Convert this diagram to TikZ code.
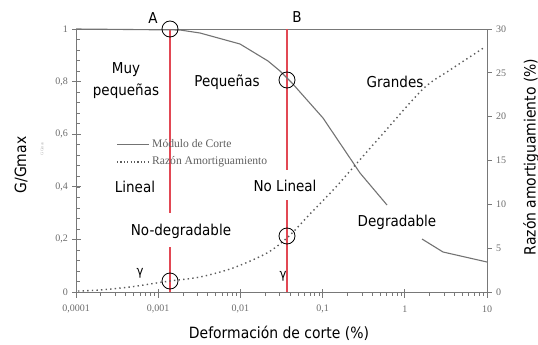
\documentclass[tikz,border=0pt]{standalone}
\usepackage{fontspec}
\setmainfont{DejaVu Sans Condensed}
\newfontfamily\tnr{Liberation Serif}
\definecolor{redl}{RGB}{226,72,84}
\definecolor{axg}{RGB}{120,120,120}
\definecolor{curveg}{RGB}{115,115,115}
\tikzset{
  lbl/.style={inner sep=0pt, font=\fontsize{15}{22}\selectfont, align=center},
  ttl/.style={inner sep=0pt, font=\fontsize{15.5}{18}\selectfont},
  ticklbl/.style={inner sep=0pt, text=axg!90!black, font=\tnr\fontsize{10}{12}\selectfont},
  leglbl/.style={inner sep=0pt, anchor=west, text=axg!80!black, font=\tnr\fontsize{11.6}{13}\selectfont},
  axisline/.style={draw=axg, line width=0.9pt},
  redline/.style={draw=redl, line width=1.2pt},
  mark circle/.style={circle, draw=black, line width=0.8pt, minimum size=16pt, inner sep=0pt},
  gcurve/.style={draw=curveg, line width=1.1pt, line join=round},
  dcurve/.style={draw=curveg!80!black, line width=1.4pt, dash pattern=on 1.4pt off 3.2pt}
}
\begin{document}
\begin{tikzpicture}[x=1pt,y=-1pt]
\useasboundingbox (0,0) rectangle (538,345);
% frame
\draw[axisline] (76,292) -- (76,29) -- (487,29) -- (487,292) -- cycle;
% left ticks
\foreach \i in {0,...,25} {
  \pgfmathsetmacro{\yy}{292-263*\i*0.04}
  \draw[axg, line width=0.6pt] (76,\yy) -- (79.5,\yy);
}
\foreach \v/\t in {0/0,1/{0,2},2/{0,4},3/{0,6},4/{0,8},5/1} {
  \pgfmathsetmacro{\yy}{292-263*\v*0.2}
  \draw[axg, line width=0.8pt] (72,\yy) -- (81,\yy);
  \node[ticklbl, anchor=east] at (68,\yy) {\t};
}
% right ticks
\foreach \v in {0,5,...,30} {
  \pgfmathsetmacro{\yy}{292-263*\v/30}
  \draw[axg, line width=0.8pt] (487,\yy) -- (492,\yy);
  \node[ticklbl, anchor=west] at (496,\yy) {\v};
}
% bottom ticks
\foreach \d in {0,...,4} {
  \foreach \k in {2,...,9} {
    \pgfmathsetmacro{\xx}{76+82.2*(\d+log10(\k))}
    \draw[axg, line width=0.6pt] (\xx,292) -- (\xx,296);
  }
}
\foreach \d/\t in {0/{0,0001},1/{0,001},2/{0,01},3/{0,1},4/1,5/10} {
  \pgfmathsetmacro{\xx}{76+82.2*\d}
  \draw[axg, line width=0.8pt] (\xx,289) -- (\xx,298);
  \node[ticklbl] at (\xx,309) {\t};
}
% red lines
\coordinate (a1) at (170,29); \coordinate (a2) at (170,213);
\coordinate (a3) at (170,247); \coordinate (a4) at (170,292);
\coordinate (b1) at (287,29); \coordinate (b2) at (287,170);
\coordinate (b3) at (287,200); \coordinate (b4) at (287,292);
\draw[redline] (a1) -- (a2) (a3) -- (a4);
\draw[redline] (b1) -- (b2) (b3) -- (b4);
% modulus curve
\draw[gcurve] (76,29) -- (180,30) -- (200,33) -- (240,44) -- (268,61) -- (280,71) -- (292,83) -- (323,118) -- (360,173) -- (387,205);
\draw[gcurve] (422,239) -- (443,252) -- (487,262);
% damping curve
\draw[dcurve] plot[smooth, tension=0.5] coordinates {(78,291) (100,290) (130,287) (150,284) (170,281) (200,277) (233,268) (267,253) (288,237) (310,214) (335,188) (350,171) (380,137) (423,89) (450,70) (485,47)};
% circles
\node[mark circle] (cA) at (170,29) {};
\node[mark circle] (cB) at (287,80) {};
\node[mark circle] (cA2) at (170,281) {};
\node[mark circle] (cB2) at (287,236) {};
% legend
\coordinate (l1) at (117,144); \coordinate (l2) at (149,144);
\coordinate (l3) at (117,162); \coordinate (l4) at (150,162);
\draw[gcurve, line width=1pt] (l1) -- (l2);
\draw[dcurve, line width=1.2pt, dash pattern=on 1.2pt off 2.2pt] (l3) -- (l4);
\node[leglbl] (lg1) at (152,144) {Módulo de Corte};
\node[leglbl] (lg2) at (152,162) {Razón Amortiguamiento};
% labels
\node[lbl] (A) at (153,18) {A};
\node[lbl] (B) at (297,17) {B};
\node[lbl] (muy) at (126,81) {Muy\\pequeñas};
\node[lbl] (peq) at (227,82) {Pequeñas};
\node[lbl] (gra) at (395,82) {Grandes};
\node[lbl] (lin) at (135,187) {Lineal};
\node[lbl] (nolin) at (285,186) {No Lineal};
\node[lbl] (nodeg) at (181,231) {No-degradable};
\node[lbl] (deg) at (397,222) {Degradable};
\node[lbl, font=\fontsize{13}{15}\selectfont] (g1) at (140,273) {γ};
\node[lbl, font=\fontsize{13}{15}\selectfont] (g2) at (283,276) {γ};
\node[ttl, rotate=90] (ylab) at (21,165) {G/Gmax};
\node[inner sep=0pt, rotate=90, text=axg!60, font=\tnr\fontsize{4}{5}\selectfont] (ytiny) at (42,149) {G/Gmax};
\node[ttl, rotate=90] (y2lab) at (531,157) {Razón amortiguamiento (\%)};
\node[ttl] (xlab) at (279,333) {Deformación de corte (\%)};
\end{tikzpicture}
\end{document}
